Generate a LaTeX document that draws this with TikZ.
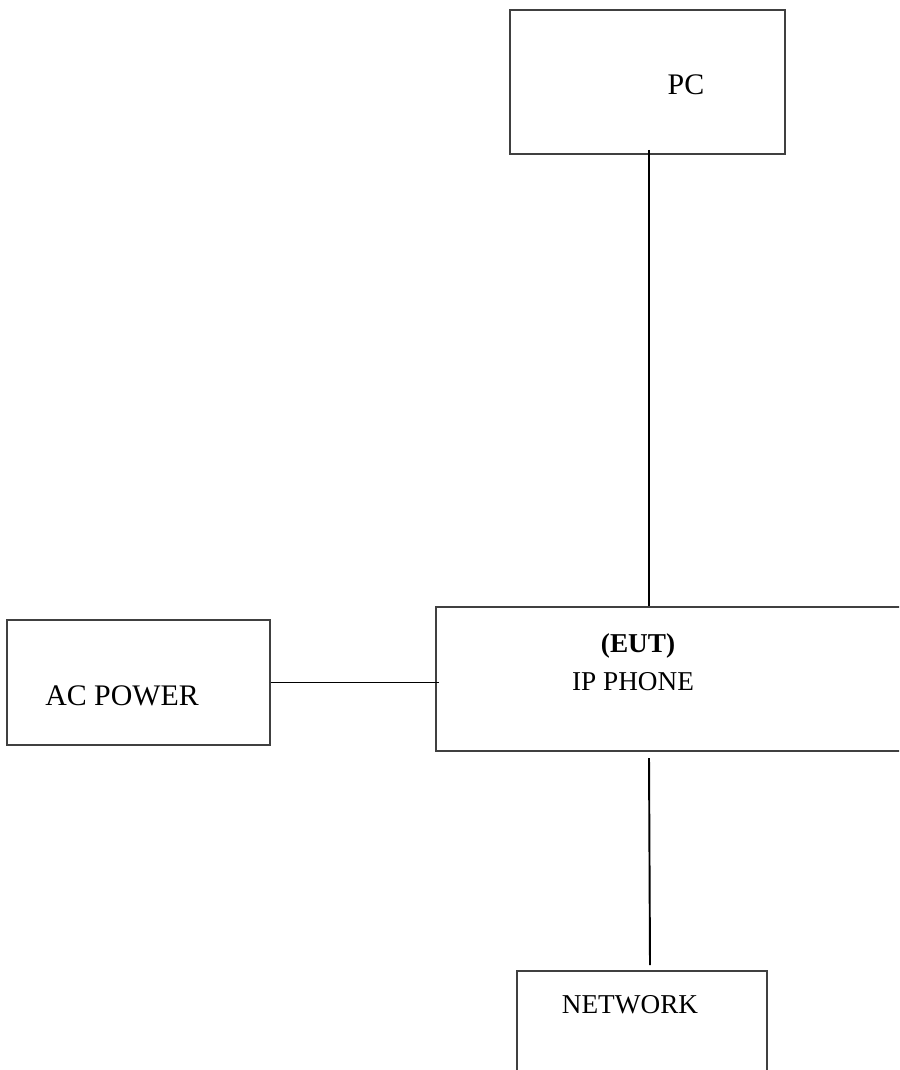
\documentclass[tikz,border=0pt]{standalone}
\usepackage{fontspec}
\setmainfont{Liberation Serif}
\usepackage{tikz}
\usetikzlibrary{positioning}
\tikzset{
	unit/.style={draw=black!75, line width=0.8pt, inner sep=0pt},
	lbl/.style={anchor=base, inner sep=0pt, font=\fontsize{15.5}{18}\selectfont},
	big/.style={font=\fontsize{17}{20}\selectfont},
	wire/.style={black, line width=1.1pt},
}

\begin{document}
\begin{tikzpicture}[x=0.02cm, y=-0.02cm]
		\clip (0,0) rectangle (899,1070);
		\node[unit, minimum width=5.5cm, minimum height=2.88cm] (pc) at (647.5,82) {};
		\node[unit, minimum width=9.3cm, minimum height=2.88cm] (phone) at (668.5,679) {};
		\node[unit, minimum width=5.26cm, minimum height=2.5cm] (acpower) at (138.5,682.5) {};
		\node[unit, minimum width=5cm, minimum height=2.1cm] (network) at (642,1023.5) {};
		\node[lbl, big] (pctext) at (686,95) {PC};
		\node[lbl, font=\fontsize{15.5}{18}\selectfont\bfseries] (euttext) at (638,652) {(EUT)};
		\node[lbl] (phonetext) at (633,690) {IP PHONE};
		\node[lbl, big] (actext) at (122,705) {AC POWER};
		\node[lbl] (nettext) at (630,1013) {NETWORK};
		\coordinate (pcport) at (649,150);
		\coordinate (netup) at (649,758);
		\coordinate (netdown) at (650,965);
		\draw[wire] (pcport) -- (pcport |- phone.north);
		\draw[wire] (acpower.east) -- ([xshift=0.08cm]acpower.east -| phone.west);
		\draw[wire] (netup) -- (netdown);
	\end{tikzpicture}
\end{document}
